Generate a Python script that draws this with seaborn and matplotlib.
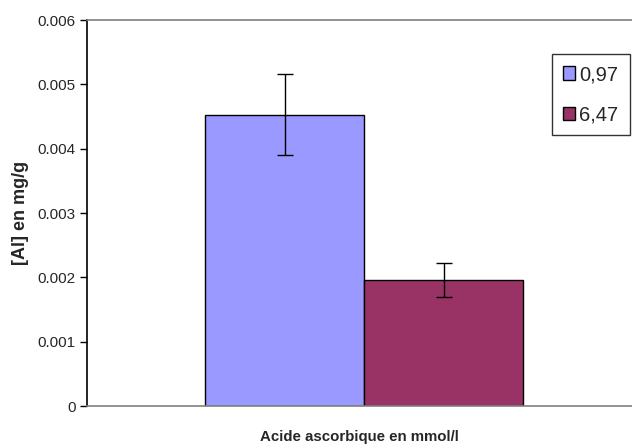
import pandas as pd
import seaborn as sb
import matplotlib.pyplot as plt
from matplotlib.ticker import MultipleLocator, FuncFormatter

sb.set_style('white')
plt.rcParams['font.family'] = ['Liberation Sans', 'DejaVu Sans']

# data
concentrations = ['0,97', '6,47']
al_means = [0.00453, 0.00196]
al_errors = [0.00063, 0.00027]
bar_colors = ['#9999FF', '#993366']

df = pd.DataFrame({'group': [''] * 2, 'conc': concentrations, 'al': al_means})

fig = plt.figure(figsize=(6.32, 4.45), dpi=100)
ax = fig.add_axes([0.1377, 0.0876, 0.8623, 0.8674])

sb.barplot(data=df, x='group', y='al', hue='conc', hue_order=concentrations,
           palette=bar_colors, width=0.8, edgecolor='black', linewidth=1,
           saturation=1, ax=ax)

# error bars on the centre of each bar
for patch, err in zip(ax.patches, al_errors):
    xc = patch.get_x() + patch.get_width() / 2
    ax.errorbar(xc, patch.get_height(), yerr=err, color='black',
                capsize=5.5, elinewidth=1, capthick=1)

ax.set_xlim(-0.697, 0.674)
ax.set_ylim(0, 0.006)
ax.yaxis.set_major_locator(MultipleLocator(0.001))
ax.yaxis.set_major_formatter(FuncFormatter(lambda v, _: '0' if v == 0 else f'{v:.3f}'))
ax.tick_params(axis='y', left=True, direction='out', length=5, width=1,
               color='black', labelsize=11, pad=3)
ax.tick_params(axis='x', bottom=False, labelbottom=False)

ax.set_xlabel('Acide ascorbique en mmol/l', fontsize=10.8, fontweight='bold', labelpad=17)
ax.set_ylabel('[Al] en mg/g', fontsize=13, fontweight='bold', labelpad=6)

ax.spines['left'].set_color('black')
ax.spines['top'].set_color('#808080')
ax.spines['bottom'].set_color('#808080')
ax.spines['right'].set_visible(False)
for s in ax.spines.values():
    s.set_linewidth(1.2)

leg = ax.legend(loc='upper left', bbox_to_anchor=(0.853, 0.912), frameon=True,
                fancybox=False, edgecolor='black', fontsize=14.5,
                handlelength=0.62, handleheight=0.62, handletextpad=0.2,
                borderpad=0.55, labelspacing=1.05, borderaxespad=0)
leg.get_frame().set_linewidth(1)
for h in leg.legend_handles:
    h.set_edgecolor('black')

fig.savefig('out.png', dpi=100)
